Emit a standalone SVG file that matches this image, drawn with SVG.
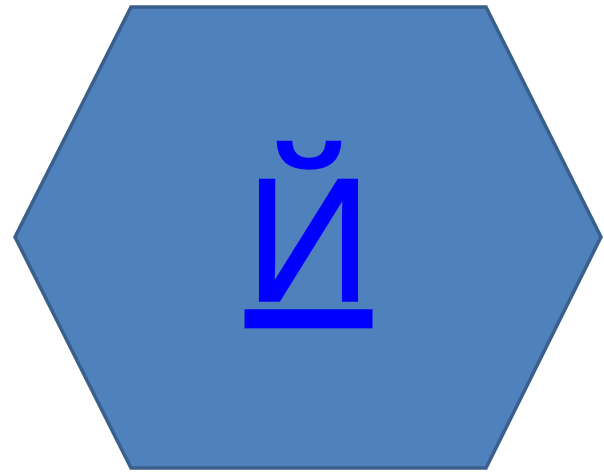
<svg xmlns="http://www.w3.org/2000/svg" width="604" height="474" viewBox="0 0 604 474">
<style>
.hex{fill:#4F81BD;stroke:#3A5F8B;stroke-width:3.5;stroke-linejoin:miter}
.lbl{font-family:"Liberation Sans",Arial,sans-serif;font-size:176px;fill:#0000FF;stroke:#0000FF;stroke-width:1.5;text-decoration:underline}
</style>
<g id="node-hexagon">
<polygon class="hex" points="131,7 486,7 601,237 486,468 131,468 15,237"/>
<text class="lbl" x="308.5" y="301" text-anchor="middle">Й</text>
</g>
<g id="connectors"/>
</svg>
